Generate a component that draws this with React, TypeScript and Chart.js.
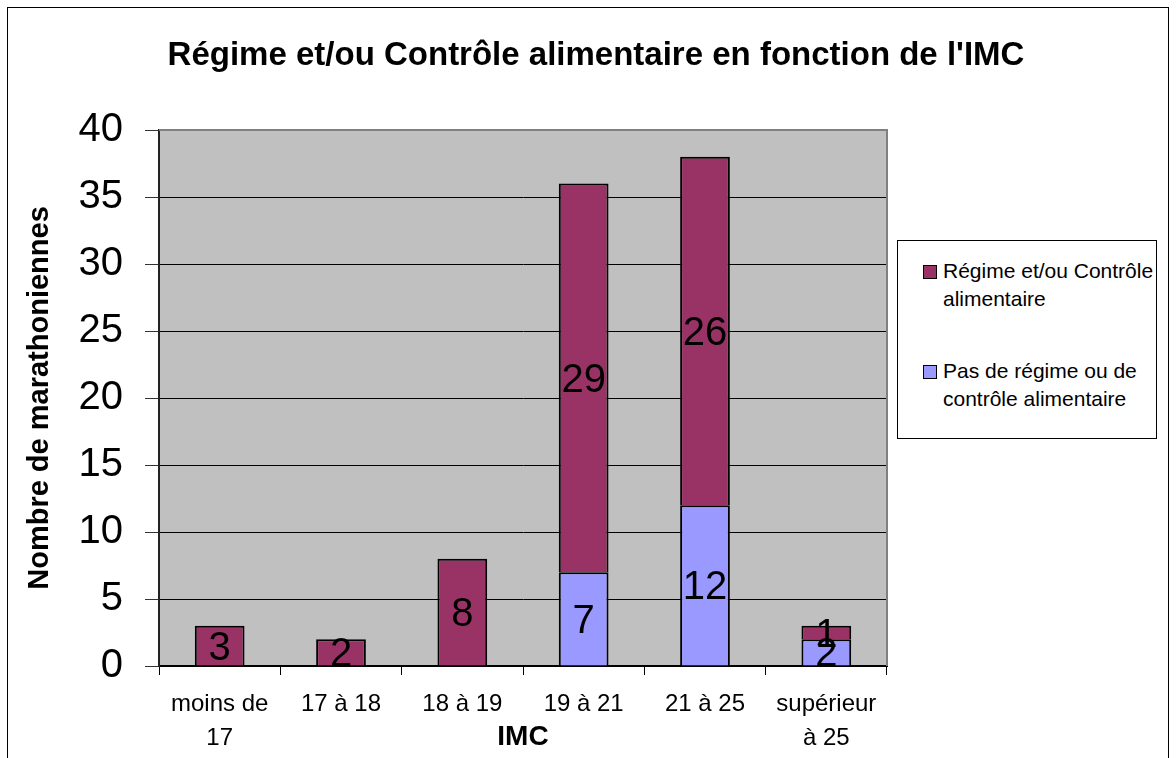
import React, { useEffect, useRef } from "react";
import { Chart, registerables } from "chart.js";

Chart.register(...registerables);

const chartTitle = "Régime et/ou Contrôle alimentaire en fonction de l'IMC";
const xTitle = "IMC";
const yTitle = "Nombre de marathoniennes";

const categories: (string | string[])[] = [
  ["moins de", "17"],
  "17 à 18",
  "18 à 19",
  "19 à 21",
  "21 à 25",
  ["supérieur", "à 25"],
];

const pasDeRegime: (number | null)[] = [null, null, null, 7, 12, 2];
const regime: (number | null)[] = [3, 2, 8, 29, 26, 1];

const yMin = 0;
const yMax = 40;
const yStep = 5;

const seriesNames = [
  "Pas de régime ou de contrôle alimentaire",
  "Régime et/ou Contrôle alimentaire",
];
const seriesColors = ["#9999FF", "#993366"];

const legendItems = [
  { color: "#993366", lines: ["Régime et/ou Contrôle", "alimentaire"] },
  { color: "#9999FF", lines: ["Pas de régime ou de", "contrôle alimentaire"] },
];

const FONT = '"Liberation Sans", Arial, Helvetica, sans-serif';

const W = 1176;
const H = 758;
const PLOT_LEFT = 159;
const PLOT_RIGHT = 887;
const PLOT_TOP = 130;
const PLOT_BOTTOM = 666;

const decorPlugin = {
  id: "decor",
  beforeDraw(chart: any) {
    const { ctx, chartArea } = chart;
    ctx.save();
    ctx.fillStyle = "#C0C0C0";
    ctx.fillRect(
      chartArea.left,
      chartArea.top,
      chartArea.right - chartArea.left,
      chartArea.bottom - chartArea.top
    );
    ctx.restore();
  },
  afterDatasetsDraw(chart: any) {
    const { ctx, chartArea } = chart;
    ctx.save();
    ctx.strokeStyle = "#808080";
    ctx.lineWidth = 2;
    ctx.beginPath();
    ctx.moveTo(chartArea.left, chartArea.top);
    ctx.lineTo(chartArea.right, chartArea.top);
    ctx.lineTo(chartArea.right, chartArea.bottom);
    ctx.stroke();

    ctx.fillStyle = "#000";
    ctx.font = `40px ${FONT}`;
    ctx.textAlign = "center";
    ctx.textBaseline = "middle";
    chart.data.datasets.forEach((ds: any, di: number) => {
      const meta = chart.getDatasetMeta(di);
      meta.data.forEach((el: any, i: number) => {
        const v = ds.data[i];
        if (v === null || v === undefined || v === 0) return;
        const y = (el.y + el.base) / 2;
        ctx.fillText(String(v), el.x, y + 3);
      });
    });
    ctx.restore();
  },
  afterDraw(chart: any) {
    const { ctx, chartArea } = chart;
    ctx.save();
    ctx.fillStyle = "#000";
    ctx.textAlign = "center";
    ctx.textBaseline = "middle";
    ctx.font = `bold 33px ${FONT}`;
    ctx.fillText(chartTitle, 596, 56);
    ctx.font = `bold 28px ${FONT}`;
    ctx.fillText(xTitle, (chartArea.left + chartArea.right) / 2, 737);
    ctx.font = `bold 29px ${FONT}`;
    ctx.translate(40, (chartArea.top + chartArea.bottom) / 2);
    ctx.rotate(-Math.PI / 2);
    ctx.fillText(yTitle, 0, 0);
    ctx.restore();
  },
};

function ChartCanvas() {
  const ref = useRef<HTMLCanvasElement | null>(null);
  useEffect(() => {
    if (!ref.current) return;
    const chart = new Chart(ref.current, {
      type: "bar",
      data: {
        labels: categories as any,
        datasets: [
          {
            label: seriesNames[0],
            data: pasDeRegime as any,
            backgroundColor: seriesColors[0],
            borderColor: "#000",
            borderWidth: 2,
            barPercentage: 0.41,
            categoryPercentage: 1,
          },
          {
            label: seriesNames[1],
            data: regime as any,
            backgroundColor: seriesColors[1],
            borderColor: "#000",
            borderWidth: 2,
            barPercentage: 0.41,
            categoryPercentage: 1,
          },
        ],
      },
      options: {
        animation: false,
        responsive: false,
        devicePixelRatio: 1,
        layout: {
          padding: { left: 0, top: PLOT_TOP, right: W - PLOT_RIGHT, bottom: 0 },
        },
        plugins: {
          legend: { display: false },
          title: { display: false },
          tooltip: { enabled: false },
        },
        scales: {
          x: {
            stacked: true,
            afterFit(scale: any) {
              scale.height = H - PLOT_BOTTOM;
            },
            grid: {
              offset: true,
              drawOnChartArea: false,
              drawTicks: true,
              tickLength: 9,
              tickColor: "#000",
              color: "#000",
            },
            border: { display: true, color: "#000", width: 2 },
            ticks: {
              color: "#000",
              font: { family: FONT, size: 24, lineHeight: 1.42 },
              padding: 12,
              maxRotation: 0,
              autoSkip: false,
            },
          },
          y: {
            stacked: true,
            min: yMin,
            max: yMax,
            afterFit(scale: any) {
              scale.width = PLOT_LEFT;
            },
            grid: {
              color: "#000",
              lineWidth: 1,
              drawTicks: true,
              tickLength: 14,
              tickColor: "#333",
            },
            border: { display: true, color: "#222", width: 2 },
            ticks: {
              stepSize: yStep,
              color: "#000",
              font: { family: FONT, size: 40 },
              padding: 22,
            },
          },
        },
      },
      plugins: [decorPlugin],
    });
    return () => chart.destroy();
  }, []);
  return (
    <canvas
      ref={ref}
      width={W}
      height={H}
      style={{ position: "absolute", left: 0, top: 0, width: W, height: H }}
    />
  );
}

export default function App() {
  return (
    <div
      style={{
        position: "fixed",
        left: 0,
        top: 0,
        width: W,
        height: H,
        background: "#fff",
        overflow: "hidden",
        fontFamily: FONT,
      }}
    >
      <div
        style={{
          position: "absolute",
          left: 7,
          top: 7,
          width: 1162,
          height: 800,
          border: "1px solid #000",
          boxSizing: "border-box",
        }}
      />
      <ChartCanvas />
      <div
        style={{
          position: "absolute",
          left: 897,
          top: 240,
          width: 260,
          height: 199,
          border: "1px solid #000",
          boxSizing: "border-box",
          background: "#fff",
        }}
      >
        {legendItems.map((item, idx) => (
          <div
            key={idx}
            style={{
              position: "absolute",
              left: 0,
              top: 16 + idx * 100,
              width: 258,
            }}
          >
            <div
              style={{
                position: "absolute",
                left: 25,
                top: 8,
                width: 12,
                height: 12,
                background: item.color,
                border: "1px solid #000",
                boxSizing: "content-box",
              }}
            />
            {item.lines.map((line, li) => (
              <div
                key={li}
                style={{
                  position: "absolute",
                  left: 45,
                  top: li * 28,
                  fontSize: 21,
                  lineHeight: "28px",
                  whiteSpace: "nowrap",
                  color: "#000",
                }}
              >
                {line}
              </div>
            ))}
          </div>
        ))}
      </div>
    </div>
  );
}
